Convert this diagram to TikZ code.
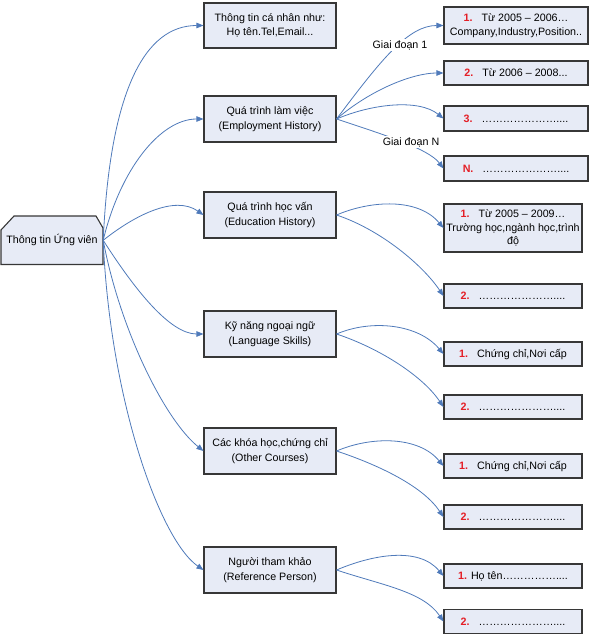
\documentclass[tikz,border=0pt]{standalone}
\usepackage{fontspec}
\setmainfont{Liberation Sans}
\usetikzlibrary{arrows.meta,calc}
\definecolor{boxfill}{RGB}{231,235,246}
\definecolor{boxline}{RGB}{55,55,55}
\definecolor{connc}{RGB}{79,122,186}
\definecolor{numred}{RGB}{228,30,38}
\newcommand{\rednum}[1]{\textcolor{numred}{\textbf{#1}}\hspace{9pt}}
\newcommand{\elp}{…}
\newcommand{\dotsline}{\elp\elp\elp\elp\elp\elp\elp....}
\begin{document}
\begin{tikzpicture}[x=1pt,y=-1pt,
  font=\fontsize{10.7}{14.5}\selectfont,
  shapebox/.style={draw=boxline,fill=boxfill,line width=1.1pt},
  box/.style={shapebox,align=center,inner sep=1pt},
  lvltwo/.style={box,minimum width=132pt,minimum height=46pt},
  work/.style={box,minimum width=144pt,minimum height=25pt,font=\fontsize{10.7}{13.5}\selectfont},
  item/.style={box,minimum width=138pt,minimum height=24pt,font=\fontsize{10.7}{13.5}\selectfont},
  conn/.style={draw=connc,line width=0.8pt,-{Triangle[length=7pt,width=5.5pt]}},
  lab/.style={fill=white,inner sep=1pt}]
\useasboundingbox (0,0) rectangle (589,634);

% root
\path[shapebox] (1,264.5) -- (1,230) -- (14,216) -- (96,216) -- (103,228) -- (103,264.5) -- cycle;
\node[inner sep=0pt,minimum width=102pt,minimum height=48.5pt] (root) at (52,240.3) {Thông tin Ứng viên};

% level 2
\node[lvltwo,minimum height=45pt] (b1) at (270,25.5) {Thông tin cá nhân như:\\Họ tên.Tel,Email...};
\node[lvltwo] (b2) at (270,119) {Quá trình làm việc\\(Employment History)};
\node[lvltwo] (b3) at (270,215) {Quá trình học vấn\\(Education History)};
\node[lvltwo] (b4) at (270,334) {Kỹ năng ngoại ngữ\\(Language Skills)};
\node[lvltwo] (b5) at (270,451) {Các khóa học,chứng chỉ\\(Other Courses)};
\node[lvltwo] (b6) at (270,570) {Người tham khảo\\(Reference Person)};

% level 3
\node[work,minimum height=37pt] (l1) at (516,25.5) {\rednum{1.}Từ 2005 – 2006…\\Company,Industry,Position..};
\node[work,minimum height=24pt] (l2) at (516,73) {\rednum{2.}Từ 2006 – 2008...};
\node[work] (l3) at (516,118.5) {\rednum{3.}\dotsline};
\node[work] (ln) at (516,168.5) {\rednum{N.}\dotsline};

\node[item,minimum height=48pt] (e1) at (513,228) {\rednum{1.}Từ 2005 – 2009…\\Trường học,ngành học,trình\\độ};
\node[item] (e2) at (513,296) {\rednum{2.}\dotsline};
\node[item] (k1) at (513,354) {\rednum{1.}Chứng chỉ,Nơi cấp};
\node[item] (k2) at (513,407) {\rednum{2.}\dotsline};
\node[item] (c1) at (513,466) {\rednum{1.}Chứng chỉ,Nơi cấp};
\node[item] (c2) at (513,517) {\rednum{2.}\dotsline};
\node[item] (r1) at (513,576) {\textcolor{numred}{\textbf{1.}}\hspace{4pt}Họ tên\elp\elp\elp\elp\elp....};
\node[item] (r2) at (513,621.5) {\rednum{2.}\dotsline};

% root connectors
\draw[conn] (root.east) .. controls (110,90) and (145,25.5) .. (b1.west);
\draw[conn] (root.east) .. controls (120,170) and (160,119) .. (b2.west);
\draw[conn] (root.east) .. controls (135,215) and (175,195) .. (b3.west);
\draw[conn] (root.east) .. controls (135,290) and (170,334) .. (b4.west);
\draw[conn] (root.east) .. controls (120,330) and (165,420) .. (b5.west);
\draw[conn] (root.east) .. controls (110,400) and (160,540) .. (b6.west);

% work history
\draw[conn] (b2.east) .. controls ($(b2.east)+(45,-60)$) and ($(l1.west)+(-35,0)$) .. (l1.west);
\draw[conn] (b2.east) .. controls ($(b2.east)+(35,-30)$) and ($(l2.west)+(-30,0)$) .. (l2.west);
\draw[conn] (b2.east) .. controls ($(b2.east)+(35,-15)$) and ($(l3.west)+(-25,-20)$) .. (l3.west);
\draw[conn] (b2.east) .. controls ($(b2.east)+(45,15)$) and ($(ln.west)+(-15,-20)$) .. (ln.west);
\node[lab] (g1) at (400,45) {Giai đoạn 1};
\node[lab] (gn) at (411,142) {Giai đoạn N};

% second items
\foreach \a/\p/\q in {b3/e1/e2, b4/k1/k2, b5/c1/c2, b6/r1/r2}{
  \draw[conn] (\a.east) .. controls ($(\a.east)+(35,-15)$) and ($(\p.west)+(-25,-30)$) .. (\p.west);
  \draw[conn] (\a.east) .. controls ($(\a.east)+(45,15)$) and ($(\q.west)+(-20,-30)$) .. (\q.west);
}
\end{tikzpicture}
\end{document}
